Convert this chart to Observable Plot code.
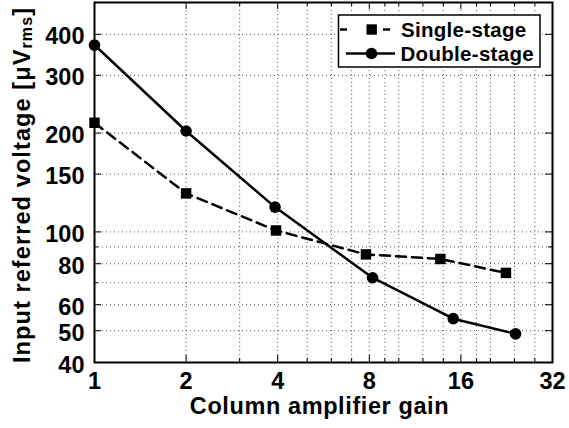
<!DOCTYPE html>
<html><head><meta charset="utf-8">
<script src="https://cdn.jsdelivr.net/npm/d3@7"></script>
<script src="https://cdn.jsdelivr.net/npm/@observablehq/plot@0.6"></script>
<style>body{margin:0;background:#fff;} svg{display:block}</style>
</head><body><div id="chart"></div>
<script>
// ---- data ----
const seriesNames = ["Single-stage", "Double-stage"];
const gainSingle = [1, 2, 3.95, 7.8, 13.7, 22.5];
const voltSingle = [215, 131, 101, 85.4, 82.7, 75];
const gainDouble = [1, 2, 3.92, 8.2, 15.1, 24.2];
const voltDouble = [371, 203, 119, 72.5, 54.4, 48.9];
const xTicks = [1, 2, 4, 8, 16, 32];
const xMajorGrid = [2, 4, 8, 16];
const xMinorGrid = [3, 5, 6, 7, 9, 10, 12, 14, 18, 20, 24, 28];
const yTicks = [40, 50, 60, 80, 100, 150, 200, 300, 400];
const yMajorGrid = [50, 60, 80, 100, 150, 200, 300, 400];
const yMinorGrid = [70, 90];
const xLabel = "Column amplifier gain";
const yLabelMain = "Input referred voltage [\u03BCV";
const yLabelSub = "rms";
const yLabelEnd = "]";

const single = gainSingle.map((g, i) => ({gain: g, volt: voltSingle[i]}));
const double = gainDouble.map((g, i) => ({gain: g, volt: voltDouble[i]}));

const W = 569, H = 428, mL = 94, mR = 17, mT = 2, mB = 66;
const plotH = H - mT - mB;
const plotW = W - mL - mR;
const font = "'Liberation Sans', Arial, Helvetica, sans-serif";
const gridStyle = {stroke: "#555", strokeOpacity: 1, strokeWidth: 1, strokeDasharray: "1,3"};
const tk = {stroke: "black", strokeWidth: 1};
const LW = 2.5;

const chart = Plot.plot({
  width: W, height: H,
  marginLeft: mL, marginRight: mR, marginTop: mT, marginBottom: mB,
  style: {fontFamily: font, fontWeight: "bold", background: "white", color: "black", overflow: "visible"},
  x: {type: "log", base: 2, domain: [1, 32]},
  y: {type: "log", domain: [40, 500]},
  marks: [
    Plot.ruleX(xMajorGrid.concat(xMinorGrid), {x: d => d, ...gridStyle}),
    Plot.ruleY(yMajorGrid.concat(yMinorGrid), {y: d => d, ...gridStyle}),
    // inner ticks (bottom/top/left/right)
    Plot.ruleX(xMajorGrid, {x: d => d, insetTop: plotH - 7, ...tk}),
    Plot.ruleX(xMajorGrid, {x: d => d, insetBottom: plotH - 7, ...tk}),
    Plot.ruleX(xMinorGrid, {x: d => d, insetTop: plotH - 4, ...tk}),
    Plot.ruleX(xMinorGrid, {x: d => d, insetBottom: plotH - 4, ...tk}),
    Plot.ruleY(yMajorGrid, {y: d => d, insetRight: plotW - 7, ...tk}),
    Plot.ruleY(yMajorGrid, {y: d => d, insetLeft: plotW - 7, ...tk}),
    Plot.ruleY(yMinorGrid, {y: d => d, insetRight: plotW - 4, ...tk}),
    Plot.ruleY(yMinorGrid, {y: d => d, insetLeft: plotW - 4, ...tk}),
    Plot.axisX({ticks: xTicks, tickSize: 0, tickPadding: 10, fontSize: 23.5, tickFormat: d => String(d), label: null}),
    Plot.axisY({ticks: yTicks, tickSize: 0, tickPadding: 10, fontSize: 23.5, dy: 2.5, tickFormat: d => String(d), label: null}),
    Plot.line(single, {x: "gain", y: "volt", stroke: "black", strokeWidth: LW, strokeDasharray: "10,6"}),
    Plot.line(double, {x: "gain", y: "volt", stroke: "black", strokeWidth: LW}),
    Plot.dot(single, {x: "gain", y: "volt", symbol: "square", r: 5.9, fill: "black", stroke: "none"}),
    Plot.dot(double, {x: "gain", y: "volt", r: 5.8, fill: "black", stroke: "none"}),
    Plot.frame({stroke: "black", strokeWidth: 2}),
    Plot.text([xLabel], {text: d => d, frameAnchor: "bottom", dx: -4, dy: 51, fontSize: 23.5, fontWeight: "bold"})
  ]
});
document.getElementById("chart").appendChild(chart);

const svg = d3.select(chart);
svg.selectAll("text").filter(function () { return this.textContent === xLabel; }).attr("letter-spacing", 0.6);

// y label with subscript
const yl = svg.append("text")
  .attr("transform", `translate(30,${mT + plotH / 2 + 3}) rotate(-90)`)
  .attr("text-anchor", "middle")
  .attr("font-family", font).attr("font-weight", "bold").attr("font-size", 23.5)
  .attr("letter-spacing", 1.1).attr("fill", "black");
yl.append("tspan").text(yLabelMain);
yl.append("tspan").attr("font-size", 16).attr("dy", 2).text(yLabelSub);
yl.append("tspan").attr("dy", -2).text(yLabelEnd);

// legend
const lg = svg.append("g").attr("font-family", font).attr("font-weight", "bold").attr("font-size", 20.5);
lg.append("rect").attr("x", 338.5).attr("y", 15).attr("width", 201.5).attr("height", 52)
  .attr("fill", "white").attr("stroke", "black").attr("stroke-width", 1.5);
const r1 = 29.5, r2 = 53.5;
lg.append("line").attr("x1", 340).attr("x2", 347).attr("y1", r1).attr("y2", r1).attr("stroke", "black").attr("stroke-width", LW);
lg.append("line").attr("x1", 383).attr("x2", 390).attr("y1", r1).attr("y2", r1).attr("stroke", "black").attr("stroke-width", LW);
lg.append("rect").attr("x", 366.5).attr("y", r1 - 5.2).attr("width", 10.4).attr("height", 10.4).attr("fill", "black");
lg.append("line").attr("x1", 346).attr("x2", 395).attr("y1", r2).attr("y2", r2).attr("stroke", "black").attr("stroke-width", LW);
lg.append("circle").attr("cx", 371.5).attr("cy", r2).attr("r", 5.8).attr("fill", "black");
lg.append("text").attr("x", 401).attr("y", r1 + 7).attr("text-anchor", "start").attr("letter-spacing", 0.3).text(seriesNames[0]);
lg.append("text").attr("x", 400.5).attr("y", r2 + 7).attr("text-anchor", "start").attr("letter-spacing", 0.3).text(seriesNames[1]);
</script>
</body></html>
